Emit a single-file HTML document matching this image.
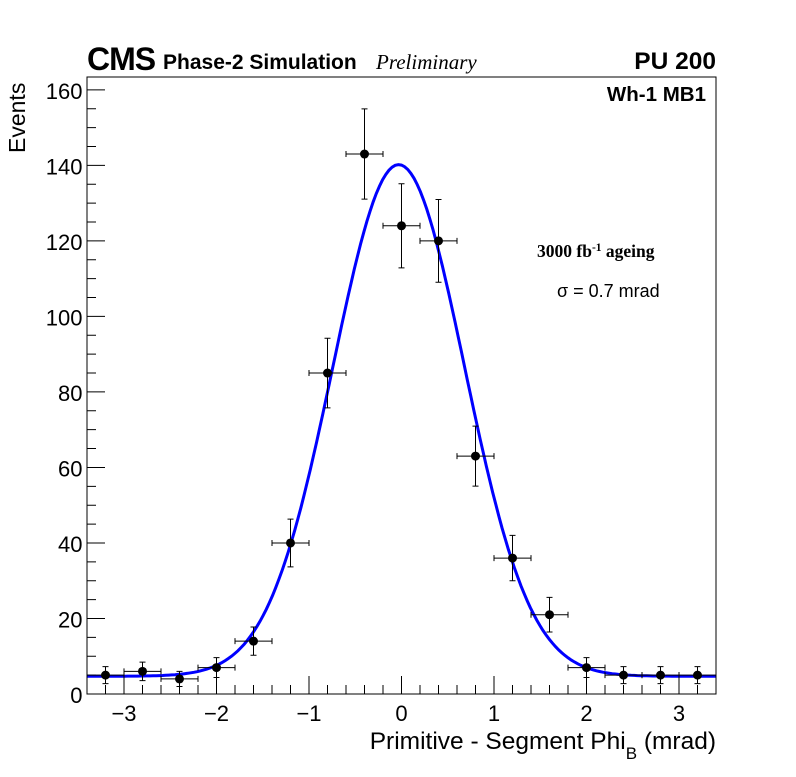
<!DOCTYPE html>
<html><head><meta charset="utf-8"><style>
body{margin:0;background:#fff;}
svg text{font-family:"Liberation Sans",sans-serif;}
</style></head><body>
<svg id="c" width="796" height="772" xmlns="http://www.w3.org/2000/svg">
<rect width="796" height="772" fill="#fff"/>
<text x="87" y="70" font-size="32" font-weight="bold" style="letter-spacing:-1px">CMS</text>
<text x="163" y="69" font-size="21" font-weight="bold">Phase-2 Simulation</text>
<text x="376" y="69" font-size="21" font-style="italic" style="font-family:'Liberation Serif',serif">Preliminary</text>
<text x="716" y="69" font-size="24.5" font-weight="bold" text-anchor="end">PU 200</text>
<text x="706" y="101" font-size="20.5" font-weight="bold" text-anchor="end">Wh-1 MB1</text>
<text x="537" y="257" font-size="17.5" font-weight="bold" style="font-family:'Liberation Serif',serif">3000 fb<tspan dy="-6" font-size="11.5">-1</tspan><tspan dy="6"> ageing</tspan></text>
<text x="557" y="297" font-size="18">σ = 0.7 mrad</text>
<text x="716" y="749" font-size="24.5" text-anchor="end">Primitive - Segment Phi<tspan dy="10" font-size="17">B</tspan><tspan dy="-10"> (mrad)</tspan></text>
<text transform="translate(25,153) rotate(-90)" font-size="23">Events</text>
<g id="axes"></g>
<g id="marks"></g>
<rect x="87" y="77" width="629" height="617" fill="none" stroke="#000" stroke-width="1"/>
</svg>
<script>
const binCenters=[-3.2,-2.8,-2.4,-2.0,-1.6,-1.2,-0.8,-0.4,0,0.4,0.8,1.2,1.6,2.0,2.4,2.8,3.2];
const counts=[5,6,4,7,14,40,85,143,124,120,63,36,21,7,5,5,5];
const fitParams=[135.5,-0.03,0.71,4.7]; // amplitude, mean, sigma, constant
const xTicks=[-3,-2,-1,0,1,2,3];
const yTicks=[0,20,40,60,80,100,120,140,160];
const X0=87,X1=716,Y0=694,Y1=77,XMIN=-3.4,XMAX=3.4,YMAX=163.4;
const sx=v=>X0+(v-XMIN)/(XMAX-XMIN)*(X1-X0);
const sy=v=>Y0-v/YMAX*(Y0-Y1);
const NS='http://www.w3.org/2000/svg';
function mk(t,a,p){const e=document.createElementNS(NS,t);for(const k in a)e.setAttribute(k,a[k]);p.appendChild(e);return e;}
const ax=document.getElementById('axes'),mg=document.getElementById('marks');
let d='';
for(let i=-17;i<=17;i++){const v=i*0.2;const x=sx(v);const major=Math.abs(v-Math.round(v))<1e-6;d+=`M${x},${Y0}V${Y0-(major?18:9)}`;}
for(let v=0;v<=YMAX;v+=5){const y=sy(v);d+=`M${X0},${y}H${X0+(v%20===0?18:9)}`;}
const tk=mk('path',{d:d,stroke:'#000','stroke-width':1,fill:'none'},ax);


xTicks.forEach(v=>{const t=mk('text',{x:sx(v),y:721,'font-size':22,'text-anchor':'middle'},ax);t.textContent=(v<0?'\u2212':'')+Math.abs(v);

});
yTicks.forEach(v=>{const t=mk('text',{x:82.5,y:sy(v)+9,'font-size':22,'text-anchor':'end'},ax);t.textContent=v;

});
const f=x=>fitParams[0]*Math.exp(-((x-fitParams[1])**2)/(2*fitParams[2]**2))+fitParams[3];
let p='';for(let i=0;i<=200;i++){const x=XMIN+(XMAX-XMIN)*i/200;p+=(i?'L':'M')+sx(x).toFixed(1)+','+sy(f(x)).toFixed(1);}
const fc=mk('path',{d:p,stroke:'#0000ff','stroke-width':3,fill:'none'},mg);


binCenters.forEach((c,i)=>{const n=counts[i],e=Math.sqrt(n),x=sx(c),y=sy(n);
const g=mk('g',{},mg);


const xl=sx(c-0.2),xr=sx(c+0.2),yt=sy(n+e),yb=sy(n-e);
mk('path',{d:`M${xl},${y}H${xr}M${x},${yt}V${yb}M${xl},${y-3}V${y+3}M${xr},${y-3}V${y+3}M${x-3},${yt}H${x+3}M${x-3},${yb}H${x+3}`,stroke:'#000','stroke-width':1,fill:'none'},g);
mk('circle',{cx:x,cy:y,r:4.5,fill:'#000'},g);});
</script>
</body></html>
